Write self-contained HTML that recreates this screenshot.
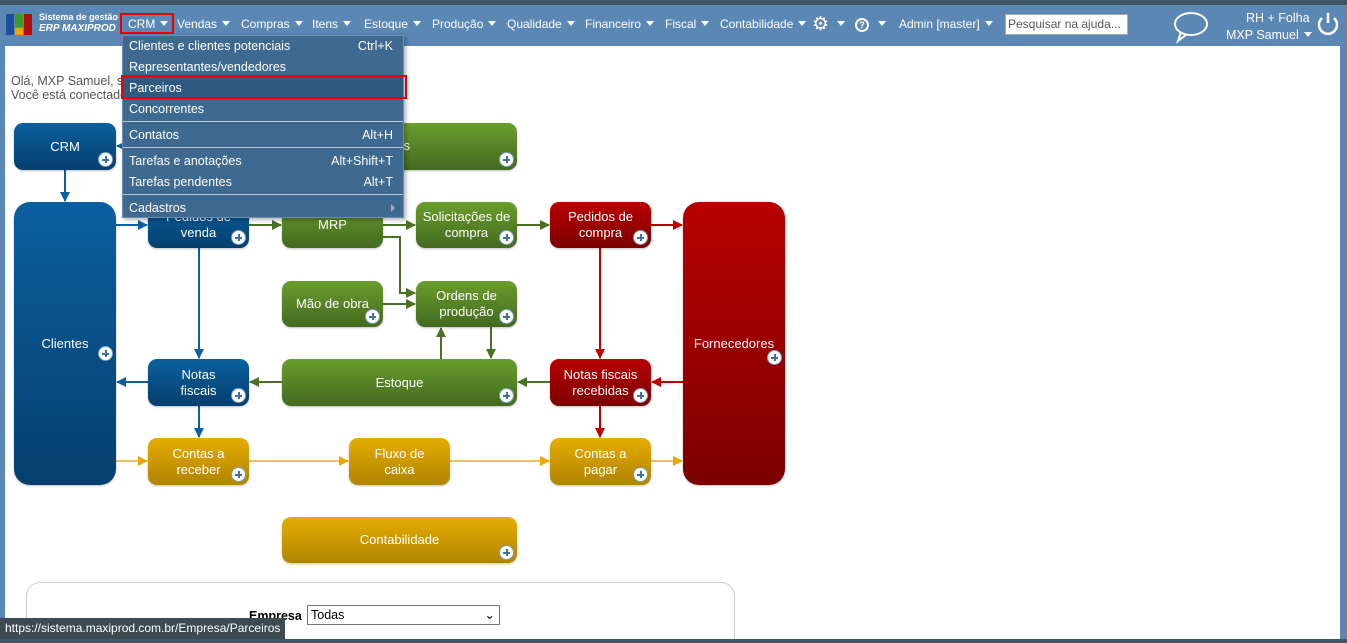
<!DOCTYPE html>
<html style="width:1347px;height:643px;overflow:hidden"><head><meta charset="utf-8"><style>
*{margin:0;padding:0;box-sizing:border-box}
body{width:1347px;height:643px;overflow:hidden;background:#5b87b5;font-family:"Liberation Sans",Arial,sans-serif;position:relative}
.top{position:absolute;left:0;top:0;width:1347px;height:5px;background:#3e5566}
.content{position:absolute;left:5px;top:46px;width:1335px;height:594px;background:#fff}
.bot{position:absolute;left:0;top:639px;width:1347px;height:4px;background:#3e5566}
.nav{position:absolute;top:17px;color:#fff;font-size:12px;white-space:nowrap}
.tri{display:inline-block;width:0;height:0;border-left:4px solid transparent;border-right:4px solid transparent;border-top:5px solid #fff;margin-left:5px;vertical-align:2px}
.box{position:absolute;border-radius:9px;color:#fff;font-size:13px;text-align:center;display:flex;align-items:center;justify-content:center;line-height:16px;box-shadow:0 1px 2px rgba(0,0,0,.25)}
.b{background:linear-gradient(#0a5f9f,#053f6e)}
.g{background:linear-gradient(#6a9e2c,#436920)}
.r{background:linear-gradient(#b80000,#7c0000)}
.y{background:linear-gradient(#e6ac00,#b08400)}
.p{position:absolute;right:3px;bottom:3px;width:15px;height:15px;border-radius:50%;background:#fff;border:1px solid #7f9fc4}
.p:before{content:"";position:absolute;left:3px;top:6px;width:7px;height:2px;background:#3d6ea8}
.p:after{content:"";position:absolute;left:6px;top:3px;width:2px;height:7px;background:#3d6ea8}
.menu{position:absolute;left:122px;top:35px;width:282px;height:183px;background:#3e6990;border:1px solid #6d8fae;box-shadow:2px 2px 4px rgba(0,0,0,.3)}
.mi{position:absolute;left:6px;color:#fff;font-size:12.5px;white-space:nowrap}
.sc{position:absolute;right:10px;color:#fff;font-size:12.5px}
.sep{position:absolute;left:0;width:280px;height:1px;background:#b8c8d8}
</style></head><body>
<div class="top"></div>
<div class="content"></div>
<div class="bot"></div>
<div style="position:absolute;left:6px;top:14px;width:8px;height:21px;background:#1f4f96"></div>
<div style="position:absolute;left:15px;top:14px;width:8px;height:13px;background:#3c9a2a"></div>
<div style="position:absolute;left:15px;top:28px;width:8px;height:7px;background:#e5a800"></div>
<div style="position:absolute;left:24px;top:14px;width:8px;height:21px;background:#b00d0d"></div>
<div style="position:absolute;left:39px;top:12px;color:#fff;font-size:9px;font-weight:bold;white-space:nowrap">Sistema de gestão</div>
<div style="position:absolute;left:39px;top:23px;color:#fff;font-size:10px;font-weight:bold;font-style:italic;white-space:nowrap">ERP MAXIPROD</div>
<div style="position:absolute;left:120px;top:13px;width:54px;height:21px;border:2px solid #e00"></div>
<div class="nav" style="left:128px">CRM<span class="tri"></span></div>
<div class="nav" style="left:177px">Vendas<span class="tri"></span></div>
<div class="nav" style="left:241px">Compras<span class="tri"></span></div>
<div class="nav" style="left:312px">Itens<span class="tri"></span></div>
<div class="nav" style="left:364px">Estoque<span class="tri"></span></div>
<div class="nav" style="left:432px">Produção<span class="tri"></span></div>
<div class="nav" style="left:507px">Qualidade<span class="tri"></span></div>
<div class="nav" style="left:585px">Financeiro<span class="tri"></span></div>
<div class="nav" style="left:665px">Fiscal<span class="tri"></span></div>
<div class="nav" style="left:720px">Contabilidade<span class="tri"></span></div>
<div class="nav" style="left:812px;top:13px;font-size:19px">⚙</div>
<div class="nav" style="left:832px"><span class="tri"></span></div>
<div style="position:absolute;left:855px;top:18px;width:14px;height:14px;border:2px solid #fff;border-radius:50%;color:#fff;font-size:9px;font-weight:bold;text-align:center;line-height:10px">?</div>
<div class="nav" style="left:873px"><span class="tri"></span></div>
<div class="nav" style="left:899px">Admin [master]<span class="tri"></span></div>
<div style="position:absolute;left:1005px;top:14px;width:123px;height:21px;background:#fff;border:1px solid #aaa;font-size:12px;color:#555;padding:2px 2px;white-space:nowrap;overflow:hidden">Pesquisar na ajuda...</div>
<svg style="position:absolute;left:1172px;top:10px" width="40" height="34"><ellipse cx="19" cy="14" rx="16" ry="11" fill="none" stroke="#fff" stroke-width="2"/><path d="M9 22 L6 31 L15 24" fill="none" stroke="#fff" stroke-width="2"/></svg>
<div style="position:absolute;left:1246px;top:11px;color:#fff;font-size:12.5px">RH + Folha</div>
<div style="position:absolute;left:1226px;top:28px;color:#fff;font-size:12.5px">MXP Samuel<span class="tri"></span></div>
<svg style="position:absolute;left:1315px;top:11px" width="26" height="26"><path d="M7 7 A9 9 0 1 0 19 7" fill="none" stroke="#fff" stroke-width="2.5"/><line x1="13" y1="2" x2="13" y2="12" stroke="#fff" stroke-width="2.5"/></svg>

<div style="position:absolute;left:11px;top:74px;color:#555;font-size:12.5px;line-height:14px;white-space:nowrap">Olá, MXP Samuel, se<br>Você está conectado</div>

<svg style="position:absolute;left:0;top:0" width="1347" height="643">
<defs>
<marker id="mb" markerWidth="10" markerHeight="10" refX="9" refY="5" orient="auto" markerUnits="userSpaceOnUse"><path d="M0,0 L10,5 L0,10z" fill="#0c5fa3"/></marker>
<marker id="mg" markerWidth="10" markerHeight="10" refX="9" refY="5" orient="auto" markerUnits="userSpaceOnUse"><path d="M0,0 L10,5 L0,10z" fill="#4a7024"/></marker>
<marker id="mr" markerWidth="10" markerHeight="10" refX="9" refY="5" orient="auto" markerUnits="userSpaceOnUse"><path d="M0,0 L10,5 L0,10z" fill="#c00000"/></marker>
<marker id="my" markerWidth="10" markerHeight="10" refX="9" refY="5" orient="auto" markerUnits="userSpaceOnUse"><path d="M0,0 L10,5 L0,10z" fill="#e8a800"/></marker>
</defs>
<g stroke-width="2" fill="none">
<path d="M65 170 V201" stroke="#0c5fa3" marker-end="url(#mb)"/>
<path d="M282 146 H117" stroke="#0c5fa3" marker-end="url(#mb)"/>
<path d="M116 225 H147" stroke="#0c5fa3" marker-end="url(#mb)"/>
<path d="M199 248 V358" stroke="#0c5fa3" marker-end="url(#mb)"/>
<path d="M199 406 V437" stroke="#0c5fa3" marker-end="url(#mb)"/>
<path d="M148 382 H117" stroke="#0c5fa3" marker-end="url(#mb)"/>
<path d="M249 225 H281" stroke="#4a7024" marker-end="url(#mg)"/>
<path d="M383 225 H415" stroke="#4a7024" marker-end="url(#mg)"/>
<path d="M517 225 H549" stroke="#4a7024" marker-end="url(#mg)"/>
<path d="M383 237 H400 V293 H415" stroke="#4a7024" marker-end="url(#mg)"/>
<path d="M383 304 H415" stroke="#4a7024" marker-end="url(#mg)"/>
<path d="M491 327 V358" stroke="#4a7024" marker-end="url(#mg)"/>
<path d="M441 359 V328" stroke="#4a7024" marker-end="url(#mg)"/>
<path d="M550 382 H518" stroke="#4a7024" marker-end="url(#mg)"/>
<path d="M282 382 H250" stroke="#4a7024" marker-end="url(#mg)"/>
<path d="M651 225 H682" stroke="#c00000" marker-end="url(#mr)"/>
<path d="M600 248 V358" stroke="#c00000" marker-end="url(#mr)"/>
<path d="M683 382 H652" stroke="#c00000" marker-end="url(#mr)"/>
<path d="M600 406 V437" stroke="#c00000" marker-end="url(#mr)"/>
<path d="M116 461 H147" stroke="#f0c060" marker-end="url(#my)"/>
<path d="M249 461 H348" stroke="#f0c060" marker-end="url(#my)"/>
<path d="M450 461 H549" stroke="#f0c060" marker-end="url(#my)"/>
<path d="M651 461 H682" stroke="#f0c060" marker-end="url(#my)"/>
</g>
</svg>

<div class="box b" style="left:14px;top:123px;width:102px;height:47px">CRM<span class="p"></span></div>
<div class="box b" style="left:14px;top:202px;width:102px;height:283px;border-radius:16px">Clientes<span class="p" style="bottom:124px"></span></div>
<div class="box g" style="left:282px;top:123px;width:235px;height:47px"><span style="position:absolute;left:76px;top:15px">Produtos</span><span class="p"></span></div>
<div class="box b" style="left:148px;top:202px;width:101px;height:46px">Pedidos de<br>venda<span class="p"></span></div>
<div class="box g" style="left:282px;top:202px;width:101px;height:46px">MRP</div>
<div class="box g" style="left:416px;top:202px;width:101px;height:46px">Solicitações de<br>compra<span class="p"></span></div>
<div class="box r" style="left:550px;top:202px;width:101px;height:46px">Pedidos de<br>compra<span class="p"></span></div>
<div class="box r" style="left:683px;top:202px;width:102px;height:283px;border-radius:16px">Fornecedores<span class="p" style="bottom:120px"></span></div>
<div class="box g" style="left:282px;top:281px;width:101px;height:46px">Mão de obra<span class="p"></span></div>
<div class="box g" style="left:416px;top:281px;width:101px;height:46px">Ordens de<br>produção<span class="p"></span></div>
<div class="box b" style="left:148px;top:359px;width:101px;height:47px">Notas<br>fiscais<span class="p"></span></div>
<div class="box g" style="left:282px;top:359px;width:235px;height:47px">Estoque<span class="p"></span></div>
<div class="box r" style="left:550px;top:359px;width:101px;height:47px">Notas fiscais<br>recebidas<span class="p"></span></div>
<div class="box y" style="left:148px;top:438px;width:101px;height:47px">Contas a<br>receber<span class="p"></span></div>
<div class="box y" style="left:349px;top:438px;width:101px;height:47px">Fluxo de<br>caixa</div>
<div class="box y" style="left:550px;top:438px;width:101px;height:47px">Contas a<br>pagar<span class="p"></span></div>
<div class="box y" style="left:282px;top:517px;width:235px;height:46px">Contabilidade<span class="p"></span></div>

<div style="position:absolute;left:26px;top:582px;width:709px;height:57px;border:1px solid #ccc;border-bottom:none;border-radius:14px 14px 0 0;background:#fff"></div>
<div style="position:absolute;left:249px;top:609px;font-size:12.5px;font-weight:bold;color:#000">Empresa</div>
<div style="position:absolute;left:307px;top:605px;width:193px;height:20px;border:1px solid #777;font-size:12.5px;padding:2px 3px;background:#fff">Todas<span style="position:absolute;right:4px;top:1px">⌄</span></div>
<div style="position:absolute;left:0;top:618px;width:285px;height:21px;background:#3d4a52;color:#fff;font-size:12px;padding:3px 5px;white-space:nowrap;overflow:hidden">https://sistema.maxiprod.com.br/Empresa/Parceiros</div>

<div class="menu">
<div class="mi" style="top:3px">Clientes e clientes potenciais</div><div class="sc" style="top:3px">Ctrl+K</div>
<div class="mi" style="top:24px">Representantes/vendedores</div>
<div style="position:absolute;left:0;top:41px;width:280px;height:22px;background:#2f5a80"></div>
<div class="mi" style="top:45px">Parceiros</div>
<div class="mi" style="top:66px">Concorrentes</div>
<div class="sep" style="top:85px"></div>
<div class="mi" style="top:92px">Contatos</div><div class="sc" style="top:92px">Alt+H</div>
<div class="sep" style="top:111px"></div>
<div class="mi" style="top:118px">Tarefas e anotações</div><div class="sc" style="top:118px">Alt+Shift+T</div>
<div class="mi" style="top:139px">Tarefas pendentes</div><div class="sc" style="top:139px">Alt+T</div>
<div class="sep" style="top:158px"></div>
<div class="mi" style="top:165px">Cadastros</div>
<div style="position:absolute;right:8px;top:168px;border-top:4px solid transparent;border-bottom:4px solid transparent;border-left:4px solid #aab"></div>
</div>
<div style="position:absolute;left:121px;top:75px;width:286px;height:24px;border:2px solid #e00"></div>
</body></html>
